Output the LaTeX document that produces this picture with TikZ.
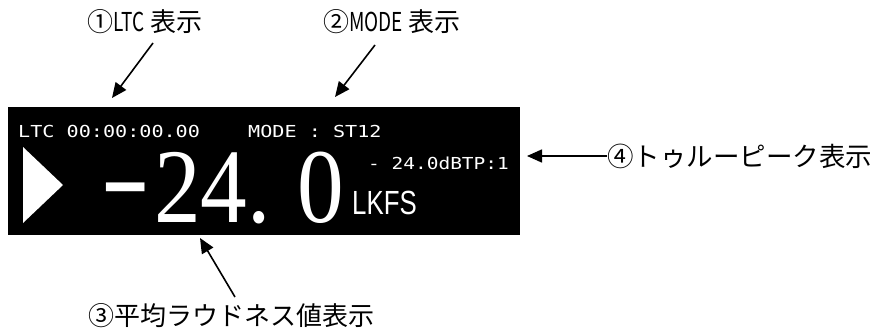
\documentclass[tikz,border=0pt]{standalone}
\usepackage{fontspec}
\usetikzlibrary{arrows.meta}
\newfontfamily\jpfont{Noto Sans CJK JP}
\newfontfamily\monofont{DejaVu Sans Mono}
\newfontfamily\bigfont{Liberation Serif}
\newfontfamily\unitfont{Liberation Sans}
\newcommand\hsc[2]{\scalebox{#1}[1]{#2}}
\begin{document}
\begin{tikzpicture}[x=1pt,y=-1pt,
  lbl/.style={font=\jpfont\fontsize{26}{26}\selectfont, inner sep=0pt, text=black},
  arr/.style={line width=1.6pt, -{Triangle[length=15pt,width=13pt]}},
  lcd/.style={font=\monofont\fontsize{16.5}{16.5}\selectfont, text=white, inner sep=0pt, anchor=base west},
  bignum/.style={font=\bigfont\fontsize{106}{106}\selectfont, text=white, inner sep=0pt, anchor=base west, text height=72pt, text depth=0pt},
  unit/.style={font=\unitfont\fontsize{33.5}{33.5}\selectfont, text=white, inner sep=0pt, anchor=base west, text height=24pt, text depth=0pt},
  minus/.style={font=\unitfont\bfseries\fontsize{74}{74}\selectfont, text=white, inner sep=0pt, anchor=base west, text height=25pt, text depth=0pt},
]
\useasboundingbox (0,0) rectangle (878,332);
% display panel
\fill[black] (8,107) rectangle (520,235);
\fill[white] (23,147) -- (23,223) -- (63,185) -- cycle;
\node[lcd] (ltc) at (18,137) {\hsc{1.22}{LTC 00:00:00.00}};
\node[lcd] (mode) at (248,137) {\hsc{1.22}{MODE : ST12}};
\node[lcd] (tp) at (368,169) {\hsc{1.18}{- 24.0dBTP:1}};
\node[minus] (neg) at (100,206) {\hsc{2.05}{-}};
\node[bignum] (num) at (154,222) {\hsc{0.88}{24.}};
\node[bignum] (zero) at (297,222) {\hsc{0.88}{0}};
\node[unit] (lkfs) at (352,214) {\hsc{0.77}{LKFS}};
% labels
\node[lbl] (l1) at (145,22) {①\hsc{0.73}{LTC} 表示};
\node[lbl] (l2) at (392,22) {②\hsc{0.73}{MODE} 表示};
\node[lbl] (l3) at (231,316) {③平均ラウドネス値表示};
\node[lbl, anchor=west, font=\jpfont\fontsize{26.5}{26.5}\selectfont] (l4) at (607,156) {④トゥルーピーク表示};
% arrows
\coordinate (s1) at (153,43);
\coordinate (t1) at (112,98);
\coordinate (s2) at (375,45);
\coordinate (t2) at (335,97);
\coordinate (s3) at (235,297);
\coordinate (t3) at (200,238);
\coordinate (t4) at (527,156);
\draw[arr] (s1) -- (t1);
\draw[arr] (s2) -- (t2);
\draw[arr] (s3) -- (t3);
\draw[arr] (l4.west) -- (t4);
\end{tikzpicture}
\end{document}
